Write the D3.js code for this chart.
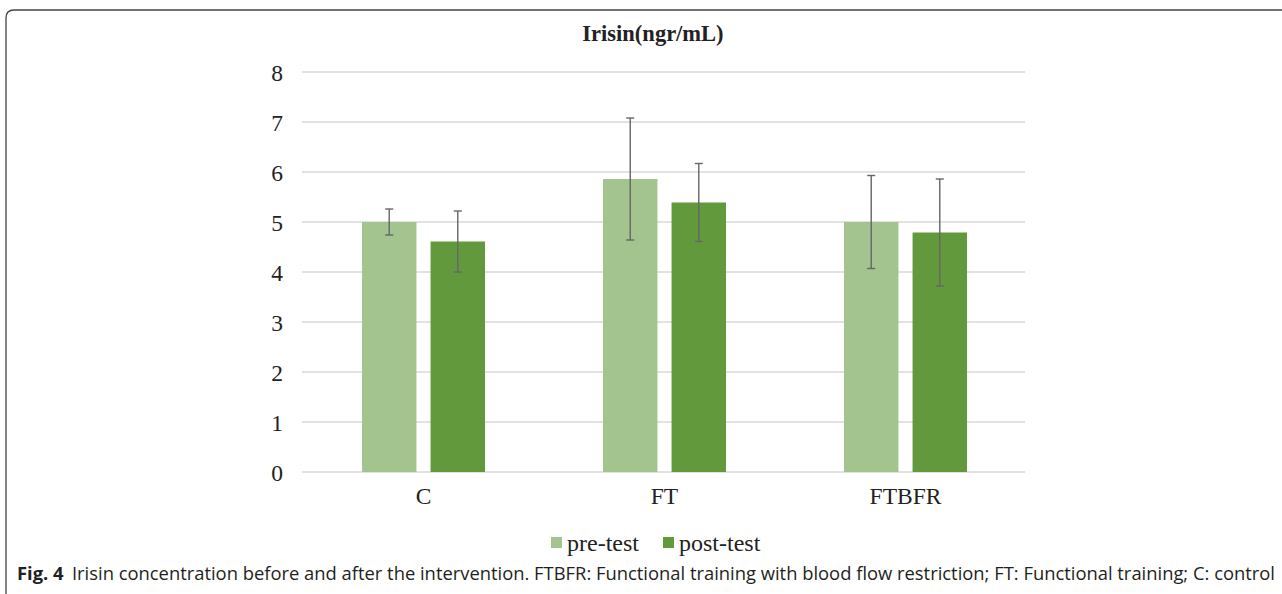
<!DOCTYPE html>
<html><head><meta charset="utf-8">
<script src="https://cdn.jsdelivr.net/npm/d3@7/dist/d3.min.js"></script>
<style>body{margin:0;background:#fff}svg{display:block}</style>
</head><body>
<script>
const categories = ["C", "FT", "FTBFR"];
const seriesNames = ["pre-test", "post-test"];
const preTest = [5.0, 5.86, 5.0];
const postTest = [4.61, 5.39, 4.79];
const preErr = [0.26, 1.22, 0.93];
const postErr = [0.61, 0.78, 1.07];
const yTicks = [0, 1, 2, 3, 4, 5, 6, 7, 8];
const colors = ["#a3c48f", "#62993d"];

const W = 1282, H = 594;
const svg = d3.select("body").append("svg").attr("width", W).attr("height", H);

// frame
svg.append("path")
  .attr("d", `M6,${H} L6,18 Q6,10 14,10 L${W},10`)
  .attr("fill", "none").attr("stroke", "#444").attr("stroke-width", 1.3);

const x0 = d3.scaleBand().domain(categories).range([302, 1025]);
const x1 = d3.scaleBand().domain(seriesNames).range([60, 183]).paddingInner(0.206).paddingOuter(0);
const y = d3.scaleLinear().domain([0, 8]).range([472, 72]);

// grid
svg.append("g").selectAll("line").data(yTicks).join("line")
  .attr("x1", 302).attr("x2", 1025)
  .attr("y1", d => y(d)).attr("y2", d => y(d))
  .attr("stroke", "#d9d9d9").attr("stroke-width", 1.3);

// y axis labels
const yAxis = d3.axisLeft(y).tickValues(yTicks).tickSize(0).tickPadding(0);
const gy = svg.append("g").attr("transform", "translate(283,1)").call(yAxis);
gy.select(".domain").remove();
gy.selectAll("text").attr("font-family", "Liberation Serif").attr("font-size", 23.5).attr("fill", "#222");

// x axis labels
const xAxis = d3.axisBottom(x0).tickSize(0).tickPadding(0);
const gx = svg.append("g").attr("transform", "translate(1,487)").call(xAxis);
gx.select(".domain").remove();
gx.selectAll("text").attr("font-family", "Liberation Serif").attr("font-size", 23.5).attr("fill", "#222");

const data = categories.map((c, i) => ({
  cat: c,
  vals: [
    {s: seriesNames[0], v: preTest[i], e: preErr[i], c: colors[0]},
    {s: seriesNames[1], v: postTest[i], e: postErr[i], c: colors[1]}
  ]
}));

const groups = svg.append("g").selectAll("g").data(data).join("g")
  .attr("transform", d => `translate(${x0(d.cat)},0)`);

groups.selectAll("rect").data(d => d.vals).join("rect")
  .attr("x", d => x1(d.s)).attr("width", x1.bandwidth())
  .attr("y", d => y(d.v)).attr("height", d => y(0) - y(d.v))
  .attr("fill", d => d.c);

const eb = groups.selectAll("g.eb").data(d => d.vals).join("g").attr("class", "eb")
  .attr("stroke", "#666").attr("stroke-width", 1.4);
const cx = d => x1(d.s) + x1.bandwidth() / 2;
eb.append("line")
  .attr("x1", cx).attr("x2", cx)
  .attr("y1", d => y(d.v + d.e)).attr("y2", d => y(d.v - d.e));
eb.append("line")
  .attr("x1", d => cx(d) - 4).attr("x2", d => cx(d) + 4)
  .attr("y1", d => y(d.v + d.e)).attr("y2", d => y(d.v + d.e));
eb.append("line")
  .attr("x1", d => cx(d) - 4).attr("x2", d => cx(d) + 4)
  .attr("y1", d => y(d.v - d.e)).attr("y2", d => y(d.v - d.e));

// title
svg.append("text").attr("x", 653).attr("y", 41).attr("text-anchor", "middle")
  .attr("font-family", "Liberation Serif").attr("font-weight", "bold").attr("font-size", 22.5)
  .attr("fill", "#222").text("Irisin(ngr/mL)");

// legend
const legX = [551, 663];
const leg = svg.append("g").selectAll("g").data(seriesNames).join("g")
  .attr("transform", (d, i) => `translate(${legX[i]},537)`);
leg.append("rect").attr("width", 11).attr("height", 11).attr("fill", (d, i) => colors[i]);
leg.append("text").attr("x", 16).attr("y", 14)
  .attr("font-family", "Liberation Serif").attr("font-size", 24).attr("fill", "#222").text(d => d);

// caption
const cap = svg.append("text").attr("x", 17).attr("y", 580)
  .attr("font-family", "Open Sans").attr("font-size", 17.5).attr("fill", "#231f20");
cap.append("tspan").attr("font-weight", "bold").text("Fig. 4");
cap.append("tspan").attr("dx", 8).text("Irisin concentration before and after the intervention. FTBFR: Functional training with blood flow restriction; FT: Functional training; C: control");
cap.attr("textLength", 1258).attr("lengthAdjust", "spacingAndGlyphs");
</script>
</body></html>
